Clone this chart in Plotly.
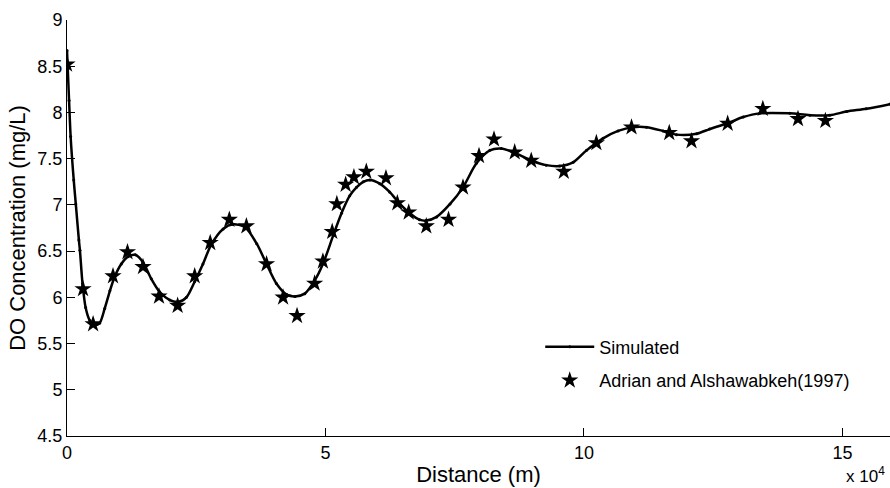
import plotly.graph_objects as go

# Simulated DO profile (distance in m, concentration mg/L)
sim_x = [0, 400, 700, 1300, 1700, 2300, 2500, 3000, 3600, 4400, 5400, 6300, 7300, 8300,
         9200, 10500, 11800, 13200, 14700, 16300, 17900, 19900, 21500, 23100, 24700,
         26300, 27900, 30200, 32100, 34400, 36700, 38600, 40500, 42500, 44100, 46000,
         47900, 49500, 51500, 53100, 54700, 56000, 57300, 58600, 60500, 62400, 64400,
         66300, 68200, 69500, 71500, 74100, 76600, 79200, 81800, 84000, 86300, 89800,
         92700, 95300, 97900, 100500, 103700, 106600, 109500, 112100, 115300, 117900,
         121800, 124300, 127600, 130800, 134000, 139800, 143700, 147500, 150800,
         154600, 159200]
sim_y = [8.67, 8.13, 7.74, 7.27, 7.01, 6.62, 6.51, 6.15, 5.89, 5.75, 5.70, 5.72, 5.88, 6.07,
         6.22, 6.36, 6.44, 6.46, 6.38, 6.20, 6.06, 5.97, 5.95, 6.00, 6.17,
         6.36, 6.57, 6.74, 6.79, 6.76, 6.58, 6.36, 6.15, 6.03, 6.01, 6.04,
         6.18, 6.36, 6.67, 6.91, 7.10, 7.19, 7.25, 7.27, 7.23, 7.14, 7.01,
         6.91, 6.84, 6.83, 6.87, 7.01, 7.19, 7.45, 7.59, 7.61, 7.57, 7.48,
         7.43, 7.42, 7.46, 7.59, 7.72, 7.80, 7.84, 7.84, 7.80, 7.76,
         7.77, 7.82, 7.88, 7.95, 7.99, 7.99, 7.97, 7.97, 8.01,
         8.04, 8.09]

# Observed data (Adrian and Alshawabkeh, 1997)
obs_x = [0, 3100, 5050, 8900, 11700, 14700, 17800, 21400, 24700, 27700, 31400, 34700,
         38600, 41800, 44500, 47900, 49500, 51300, 52200, 53900, 55500, 57900, 61700,
         63900, 66100, 69500, 73800, 76600, 79700, 82600, 86600, 89800, 96100, 102400,
         109200, 116500, 120800, 127800, 134600, 141400, 146700]
obs_y = [8.52, 6.09, 5.71, 6.23, 6.49, 6.33, 6.01, 5.91, 6.23, 6.59, 6.84, 6.77,
         6.36, 6.00, 5.80, 6.15, 6.39, 6.71, 7.01, 7.22, 7.30, 7.36, 7.29,
         7.02, 6.92, 6.77, 6.84, 7.19, 7.53, 7.71, 7.57, 7.48, 7.36, 7.67,
         7.84, 7.78, 7.69, 7.88, 8.04, 7.93, 7.91]

x_tickvals = [0, 50000, 100000, 150000]
x_ticktext = ["0", "5", "10", "15"]
y_tickvals = [4.5, 5, 5.5, 6, 6.5, 7, 7.5, 8, 8.5, 9]
y_ticktext = ["4.5", "5", "5.5", "6", "6.5", "7", "7.5", "8", "8.5", "9"]

FONT = "Liberation Sans, Arial, sans-serif"

fig = go.Figure()
fig.add_trace(go.Scatter(
    x=sim_x, y=sim_y, mode="lines+markers", name="Simulated",
    line=dict(color="black", width=2.5, shape="spline", smoothing=0.8),
    marker=dict(color="black", size=3, symbol="circle"),
    legendgroup="a",
))
fig.add_trace(go.Scatter(
    x=obs_x, y=obs_y, mode="markers", name="Adrian and Alshawabkeh(1997)",
    marker=dict(color="black", size=13, symbol="star", line=dict(width=0)),
    legendgroup="b",
))

fig.update_layout(
    width=890, height=488,
    margin=dict(l=67, r=0, t=20, b=52),
    paper_bgcolor="white", plot_bgcolor="white",
    font=dict(family=FONT, size=18, color="black"),
    showlegend=True,
    legend=dict(
        x=0.575, y=0.258, xanchor="left", yanchor="top",
        bgcolor="rgba(0,0,0,0)", borderwidth=0,
        font=dict(family=FONT, size=18, color="black"),
        itemwidth=49, tracegroupgap=7,
    ),
    xaxis=dict(
        range=[0, 159200], showgrid=False, zeroline=False,
        showline=True, linecolor="black", linewidth=1,
        ticks="inside", ticklen=8, tickcolor="black", tickwidth=1,
        tickvals=x_tickvals, ticktext=x_ticktext,
        title=dict(text="Distance (m)", standoff=5),
        mirror=False,
    ),
    yaxis=dict(
        range=[4.5, 9], showgrid=False, zeroline=False,
        showline=True, linecolor="black", linewidth=1,
        ticks="inside", ticklen=8, tickcolor="black", tickwidth=1,
        tickvals=y_tickvals, ticktext=y_ticktext,
        title=dict(text="DO Concentration (mg/L)", standoff=5),
        mirror=False,
    ),
    annotations=[dict(
        text="x 10<sup>4</sup>", xref="paper", yref="paper",
        x=1.0, y=-0.124, xanchor="right", yanchor="bottom",
        xshift=-3,
        showarrow=False, font=dict(family=FONT, size=17, color="black"),
    )],
)

fig.write_html("out.html")
